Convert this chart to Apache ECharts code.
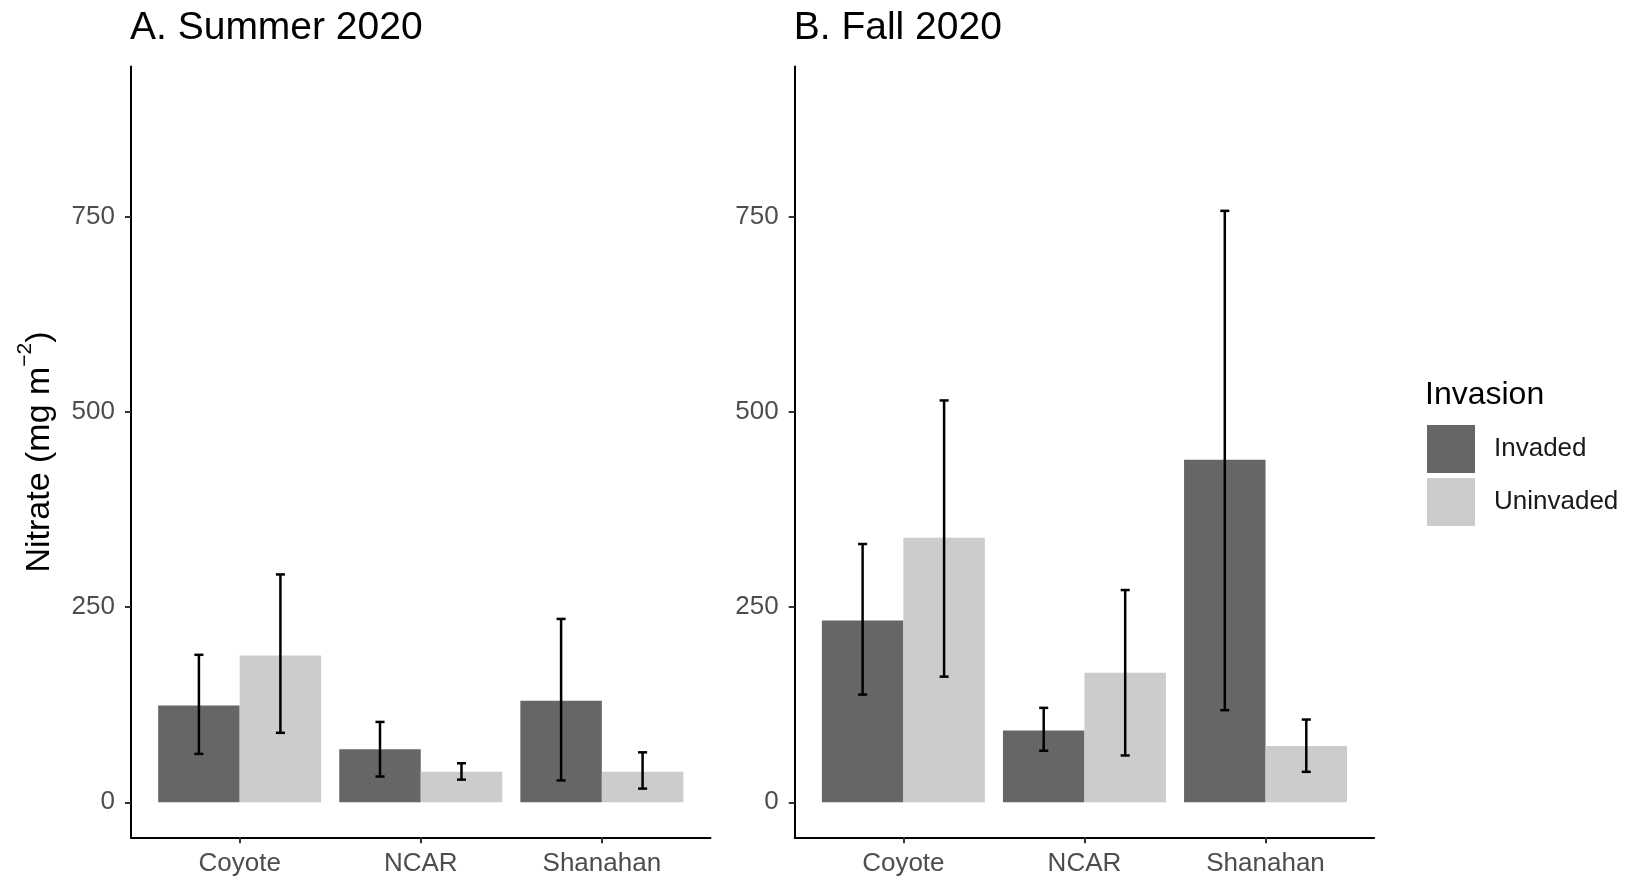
<!DOCTYPE html>
<html>
<head>
<meta charset="utf-8">
<script src="https://cdn.jsdelivr.net/npm/echarts@6/dist/echarts.min.js"></script>
<style>
html,body{margin:0;padding:0;background:#fff;}
#chart{width:1631px;height:881px;}
</style>
</head>
<body>
<div id="chart"></div>
<script>
// ---- data ----
const categories = ['Coyote', 'NCAR', 'Shanahan'];
const yTicks = [0, 250, 500, 750];
const seriesNames = ['Invaded', 'Uninvaded'];

const summerInvaded    = [124, 68, 130];
const summerInvadedLo  = [62, 33, 28];
const summerInvadedHi  = [189, 103, 235];
const summerUninvaded   = [188, 39, 39];
const summerUninvadedLo = [89, 29, 17.5];
const summerUninvadedHi = [292, 50, 64];

const fallInvaded    = [233, 92, 439];
const fallInvadedLo  = [138, 66, 118];
const fallInvadedHi  = [331, 121, 758];
const fallUninvaded   = [339, 166, 72];
const fallUninvadedLo = [161, 60, 39];
const fallUninvadedHi = [515, 272, 106];

const panelTitles = ['A. Summer 2020', 'B. Fall 2020'];
const yTitle = 'Nitrate (mg m';
const legendTitle = 'Invasion';

// ---- build ----
const FONT = 'Liberation Sans, Arial, Helvetica, sans-serif';
const colors = ['#666666', '#CCCCCC'];
const dodge = 0.225, halfBar = 0.225, capHalf = 0.025;

function rows(vals, lo, hi) {
  return vals.map((v, i) => [i + 1, v, lo[i], hi[i]]);
}

function makeRender(offset) {
  return function (params, api) {
    const x = api.value(0) + offset;
    const v = api.value(1), lo = api.value(2), hi = api.value(3);
    const tl = api.coord([x - halfBar, v]);
    const br = api.coord([x + halfBar, 0]);
    const top = api.coord([x, hi]);
    const bot = api.coord([x, lo]);
    const ch = api.size([capHalf, 0])[0];
    const es = { stroke: '#000', lineWidth: 2.5 };
    return {
      type: 'group',
      children: [
        { type: 'rect', shape: { x: tl[0], y: tl[1], width: br[0] - tl[0], height: br[1] - tl[1] },
          style: { fill: api.visual('color') } },
        { type: 'line', shape: { x1: top[0], y1: top[1], x2: bot[0], y2: bot[1] }, style: es },
        { type: 'line', shape: { x1: top[0] - ch, y1: top[1], x2: top[0] + ch, y2: top[1] }, style: es },
        { type: 'line', shape: { x1: bot[0] - ch, y1: bot[1], x2: bot[0] + ch, y2: bot[1] }, style: es }
      ]
    };
  };
}

const gridLefts = [131, 794.7];
const grids = gridLefts.map(l => ({ left: l, top: 66.5, width: 579.5, height: 770.8, containLabel: false }));

const axisLineStyle = { show: true, onZero: false, lineStyle: { color: '#000', width: 2 } };
const xAxes = [0, 1].map(g => ({
  type: 'value', gridIndex: g, min: 0.4, max: 3.6,
  axisLine: axisLineStyle,
  axisTick: { show: true, length: 6, lineStyle: { color: '#333', width: 2 }, customValues: [1, 2, 3] },
  axisLabel: { show: true, customValues: [1, 2, 3], margin: 14, fontSize: 26, color: '#4d4d4d', fontFamily: FONT,
    formatter: v => categories[Math.round(v) - 1] },
  splitLine: { show: false }
}));
const yAxes = [0, 1].map(g => ({
  type: 'value', gridIndex: g, min: -44.9, max: 943,
  axisLine: axisLineStyle,
  axisTick: { show: true, length: 6, lineStyle: { color: '#333', width: 2 }, customValues: yTicks },
  axisLabel: { show: true, customValues: yTicks, margin: 16, fontSize: 26, color: '#4d4d4d', fontFamily: FONT },
  splitLine: { show: false }
}));

const panelData = [
  [rows(summerInvaded, summerInvadedLo, summerInvadedHi), rows(summerUninvaded, summerUninvadedLo, summerUninvadedHi)],
  [rows(fallInvaded, fallInvadedLo, fallInvadedHi), rows(fallUninvaded, fallUninvadedLo, fallUninvadedHi)]
];

const series = [];
[0, 1].forEach(g => {
  [0, 1].forEach(s => {
    series.push({
      type: 'custom', name: seriesNames[s], xAxisIndex: g, yAxisIndex: g,
      itemStyle: { color: colors[s] },
      encode: { x: 0, y: [1, 2, 3] },
      renderItem: makeRender(s === 0 ? -dodge : dodge),
      data: panelData[g][s],
      silent: true
    });
  });
});

const chart = echarts.init(document.getElementById('chart'), null, { renderer: 'canvas' });
chart.setOption({
  animation: false,
  backgroundColor: '#fff',
  textStyle: { fontFamily: FONT },
  title: panelTitles.map((t, i) => ({
    text: t, left: gridLefts[i] - 1, top: 9, padding: 0,
    textStyle: { fontSize: 39, fontWeight: 'normal', color: '#000', fontFamily: FONT }
  })),
  grid: grids,
  xAxis: xAxes,
  yAxis: yAxes,
  legend: {
    data: seriesNames, orient: 'vertical', left: 1427, top: 425, padding: 0,
    itemWidth: 48, itemHeight: 48, itemGap: 5, icon: 'rect', selectedMode: false,
    textStyle: { fontSize: 26, color: '#1a1a1a', fontFamily: FONT, padding: [6, 0, 0, 14] }
  },
  graphic: [
    {
      type: 'text', x: 36, y: 452, rotation: Math.PI / 2,
      style: {
        text: '{a|' + yTitle + '}{s|−2}{a|)}', align: 'center', verticalAlign: 'middle',
        rich: {
          a: { fontSize: 34, fontFamily: FONT, fill: '#000', verticalAlign: 'bottom', lineHeight: 42 },
          s: { fontSize: 21, fontFamily: FONT, fill: '#000', verticalAlign: 'top', lineHeight: 42 }
        }
      }
    },
    {
      type: 'text', left: 1425, top: 379,
      style: { text: legendTitle, fontSize: 32, fontFamily: FONT, fill: '#000' }
    }
  ],
  series: series
});
</script>
</body>
</html>
